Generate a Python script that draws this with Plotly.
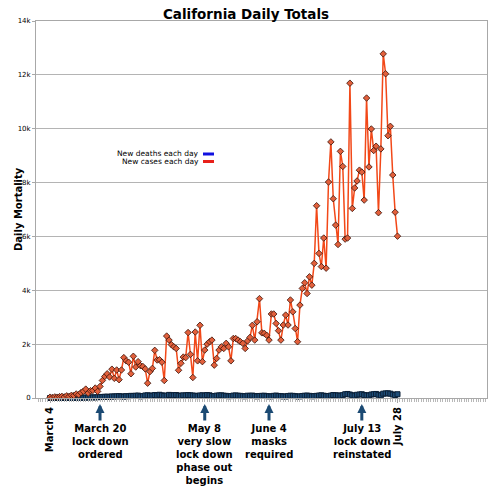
import plotly.graph_objects as go

# ---- data ----
cases = [30, 20, 40, 30, 50, 60, 40, 80, 60, 100, 90, 150, 120, 200,
         250, 330, 180, 270, 280, 370, 245, 430,
         650, 800, 900, 780, 1070, 730, 1040, 680, 1040, 1500, 1380, 1330, 900, 1550,
         1150, 1350, 1200, 1170, 1080, 550, 980, 1100, 1770, 1410, 1420, 1330, 650,
         2300, 2150, 1980, 1900, 1840, 1030, 1290, 1520, 1500, 2430, 1620, 760,
         2450, 1380, 2700, 1350, 1780, 2000, 2090, 2150, 1220, 1470, 1780, 1900, 1840,
         2030, 1900, 1380, 2210, 2210, 2150, 2090, 2030, 1840, 2120, 2250, 2700, 2150,
         2830, 3690, 2420, 2400, 2330,
         2150, 3120, 3120, 2770, 2500, 2150, 2710, 3080, 2710, 3640, 3200, 2580, 2090,
         3450, 4070, 4280, 3880, 4500, 4190, 5000, 7140, 5370, 4880, 5940, 4820, 8020,
         9510, 7400, 6420, 5700, 9160, 8600, 5900, 5940, 11690, 7040, 7800, 8060, 8460,
         8390, 7350, 11140, 8580, 9990, 9190, 9350, 6880, 9250, 12780, 12040, 9740,
         10090, 8280, 6900, 6010]

deaths = [0, 0, 1, 0, 1, 2, 2, 3, 2, 4, 5, 6, 7, 10,
          12, 15, 18, 20, 25, 20, 30, 35, 40, 45, 50, 40, 60, 55, 65, 70,
          60, 50, 70, 65, 80, 75, 85, 90, 60, 70, 95, 100, 90, 85, 110, 95, 120, 100,
          80, 90, 115, 105, 100, 110, 90, 80, 100, 95, 110, 100, 90,
          85, 70, 95, 100, 90, 110, 100, 75, 70, 90, 95, 100, 85, 80, 65, 70, 90, 95,
          85, 80, 70, 65, 85, 80, 90, 75, 60, 75, 80, 85, 70,
          65, 60, 80, 90, 75, 70, 60, 55, 75, 85, 80, 70, 55, 60, 75, 85, 90, 80, 65,
          70, 80, 90, 100, 85, 70, 75, 90, 110, 100,
          95, 85, 105, 140, 150, 130, 100, 90, 120, 130, 140, 110, 100, 95, 130, 140,
          150, 120, 100, 160, 170, 175, 160, 130, 110, 140]

days = list(range(len(cases)))
x_tick_days = [0, 146]
x_tick_labels = ["March 4", "July 28"]
y_tick_vals = [0, 2000, 4000, 6000, 8000, 10000, 12000, 14000]
y_tick_labels = ["0", "2k", "4k", "6k", "8k", "10k", "12k", "14k"]
event_days = [21, 65, 92, 131]
event_labels = ["March 20<br>lock down<br>ordered",
                "May 8<br>very slow<br>lock down<br>phase out<br>begins",
                "June 4<br>masks<br>required",
                "July 13<br>lock down<br>reinstated"]
series_names = ["New deaths each day", "New cases each day"]
legend_colors = ["#1010e0", "#e8201a"]

FONT = "DejaVu Sans"

# page places the figure with an 8px body margin; work in reference pixels
OFF = 8
W = H = 500 - OFF

fig = go.Figure()
fig.add_trace(go.Scatter(
    x=days, y=deaths, mode="lines+markers", name=series_names[0],
    cliponaxis=False,
    line=dict(color="#1f4e79", width=1.5),
    marker=dict(symbol="square", size=5, color="#1f4e79",
                line=dict(color="#0a1f36", width=1))))
fig.add_trace(go.Scatter(
    x=days, y=cases, mode="lines+markers", name=series_names[1],
    cliponaxis=False,
    line=dict(color="#f24818", width=1.5),
    marker=dict(symbol="diamond", size=5, color="#e2603c",
                line=dict(color="#3a1208", width=0.8))))

# plot area in reference pixels: left 36, right 487, top 21, bottom 398
L, R, T, B = 36, 487, 21, 398
def px(xp):
    return (xp - L) / (R - L)
def py(yp):
    return (B - yp) / (B - T)

annotations = []
for d, lab in zip(event_days, event_labels):
    annotations.append(dict(x=d, xref="x", y=py(404), yref="paper", text="",
                            showarrow=True, ax=0, ay=18, arrowhead=2, arrowsize=0.6,
                            arrowwidth=3, arrowcolor="#1b4a73"))
    annotations.append(dict(x=d, xref="x", y=py(421), yref="paper", text="<b>" + lab + "</b>",
                            showarrow=False, xanchor="center", yanchor="top", align="center",
                            font=dict(family=FONT, size=10, color="black")))

# y-axis title
annotations.append(dict(x=px(11), xref="paper", y=0.5, yref="paper",
                        text="<b>Daily Mortality</b>", textangle=-90, showarrow=False,
                        font=dict(family=FONT, size=10, color="black")))

# legend (text with swatch on the right)
shapes = []
for i, (nm, col) in enumerate(zip(series_names, legend_colors)):
    yy = 154 + 7.5 * i
    annotations.append(dict(x=px(201), xref="paper", y=py(yy), yref="paper", text=nm,
                            showarrow=False, xanchor="right", yanchor="middle",
                            font=dict(family=FONT, size=7.5, color="black")))
    shapes.append(dict(type="line", xref="paper", yref="paper",
                       x0=px(203), x1=px(214), y0=py(yy), y1=py(yy),
                       line=dict(color=col, width=3)))

fig.update_layout(
    width=W, height=H,
    margin=dict(l=L - OFF, r=500 - R, t=T - OFF, b=500 - B, autoexpand=False),
    paper_bgcolor="white", plot_bgcolor="white",
    showlegend=False,
    font=dict(family=FONT, color="black"),
    title=dict(text="<b>California Daily Totals</b>", x=(246 - OFF) / W, xanchor="center",
               y=1.0, yanchor="top", xref="container", yref="container",
               pad=dict(t=2, b=0, l=0, r=0),
               font=dict(family=FONT, size=13.5, color="black")),
    annotations=annotations,
    shapes=shapes,
)
fig.update_xaxes(
    range=[-5.9, 183.6], tickmode="array", tickvals=x_tick_days,
    ticktext=["<b>" + t + "</b>" for t in x_tick_labels], tickangle=-90,
    tickfont=dict(family=FONT, size=10, color="black"),
    ticks="outside", ticklen=4, tickcolor="#a8a8a8",
    showgrid=False, zeroline=False, showline=True, linecolor="#a8a8a8",
    linewidth=1, mirror=True,
    minor=dict(tickmode="linear", tick0=0, dtick=1, ticks="outside", ticklen=3,
               tickcolor="#b8b8b8", showgrid=False))
fig.update_yaxes(
    range=[0, 14000], tickmode="array", tickvals=y_tick_vals, ticktext=y_tick_labels,
    tickfont=dict(family=FONT, size=7, color="black"),
    ticks="outside", ticklen=3, tickcolor="#a8a8a8",
    showgrid=True, gridcolor="#b4b4b4", gridwidth=1,
    zeroline=False, showline=True, linecolor="#a8a8a8", linewidth=1, mirror=True)

fig.write_html("out.html")
